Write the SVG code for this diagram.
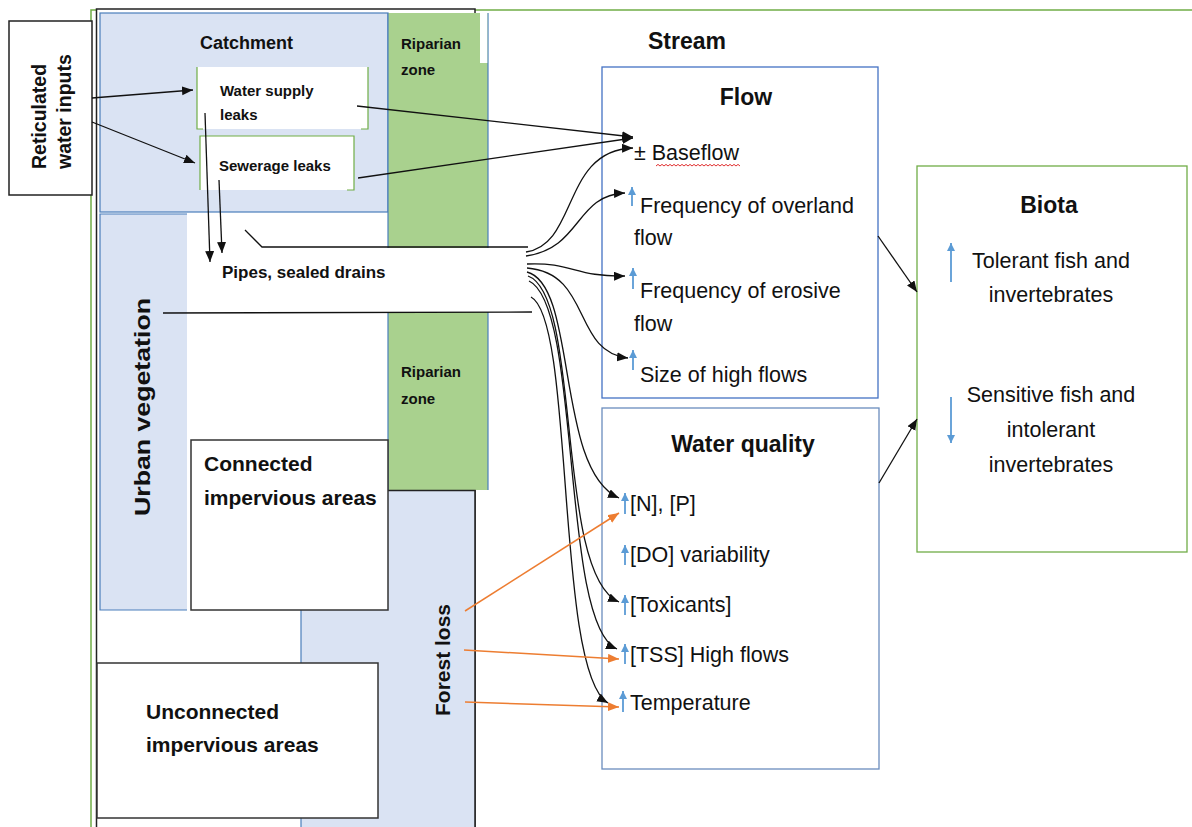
<svg xmlns="http://www.w3.org/2000/svg" width="1192" height="827" viewBox="0 0 1192 827">
<style>
text{font-family:"Liberation Sans",Arial,sans-serif;fill:#111}
.b{font-weight:bold}
.item{font-size:21.5px}
.bio{font-size:21.5px;text-anchor:middle}
.ttl{font-weight:bold;font-size:23px}
.lbl{font-weight:bold;font-size:15px}
.big{font-weight:bold;font-size:21px}
.blk{stroke:#111;stroke-width:1.3;fill:none}
.org{stroke:#ed7d31;stroke-width:1.5;fill:none}
.ind{stroke:#5b9bd5;stroke-width:1.8;fill:none}
.bluefill{fill:#dae3f3}
.bline{stroke:#4a7ebb;stroke-width:1.2;fill:none}
</style>
<defs>
<marker id="ah" markerUnits="userSpaceOnUse" markerWidth="12" markerHeight="10" refX="11" refY="4.5" orient="auto"><path d="M0,0 L11,4.5 L0,9 z" fill="#111"/></marker>
<marker id="ao" markerUnits="userSpaceOnUse" markerWidth="12" markerHeight="10" refX="11" refY="4.5" orient="auto"><path d="M0,0 L11,4.5 L0,9 z" fill="#ed7d31"/></marker>
<marker id="ab" markerUnits="userSpaceOnUse" markerWidth="10" markerHeight="10" refX="8" refY="4" orient="auto"><path d="M0,0 L8,4 L0,8 z" fill="#5b9bd5"/></marker>
</defs>
<rect width="1192" height="827" fill="#fff"/>

<g id="frame">
<rect x="91" y="10" width="1120" height="830" fill="none" stroke="#70ad47" stroke-width="1.5"/>
<rect x="96.5" y="9" width="378.5" height="830" fill="#fff" stroke="#222" stroke-width="1.5"/>
</g>

<g id="catchment">
<rect x="100" y="13" width="288" height="199" class="bluefill"/>
<rect x="100" y="13" width="288" height="199" class="bline"/>
<text x="200" y="49" class="b" font-size="18">Catchment</text>
</g>

<g id="riparian-zone">
<rect x="388" y="13" width="100" height="477" fill="#a9d18e"/>
<line x1="388" y1="13" x2="388" y2="490" class="bline"/>
<line x1="488" y1="13" x2="488" y2="490" class="bline"/>
<rect x="480" y="12" width="7.3" height="51" fill="#fff"/>
<text x="401" y="49" class="lbl">Riparian</text>
<text x="401" y="75" class="lbl">zone</text>
<text x="401" y="377" class="lbl">Riparian</text>
<text x="401" y="404" class="lbl">zone</text>
</g>

<g id="urban-vegetation">
<rect x="100" y="214" width="87" height="396" class="bluefill"/>
<path d="M187,214 H100 V610 H187" class="bline"/>
<text transform="translate(150,516) rotate(-90)" class="b" font-size="22" textLength="218" lengthAdjust="spacingAndGlyphs">Urban vegetation</text>
</g>

<g id="pipes-sealed-drains">
<rect x="387" y="248" width="103" height="64" fill="#fff"/>
<path d="M245,230 L262,247 L528,247" class="blk"/>
<path d="M163,313 L532,312" class="blk"/>
<text x="222" y="278" class="b" font-size="17">Pipes, sealed drains</text>
</g>

<g id="forest-loss">
<rect x="301" y="490" width="174" height="340" class="bluefill"/>
<line x1="301" y1="610" x2="301" y2="830" class="bline"/>
<path d="M388,490.5 H475 V830" stroke="#222" stroke-width="1.5" fill="none"/>
<text transform="translate(450,716) rotate(-90)" class="b" font-size="21">Forest loss</text>
</g>

<g id="connected-impervious-areas">
<rect x="191" y="440" width="197" height="170" fill="#fff" stroke="#333" stroke-width="1.5"/>
<text x="204" y="471" class="big">Connected</text>
<text x="204" y="505" class="big">impervious areas</text>
</g>

<g id="unconnected-impervious-areas">
<rect x="97" y="663" width="281" height="155" fill="#fff" stroke="#333" stroke-width="1.5"/>
<text x="146" y="719" class="big">Unconnected</text>
<text x="146" y="752" class="big">impervious areas</text>
</g>

<g id="reticulated-water-inputs">
<rect x="9" y="21" width="83" height="174" fill="#fff" stroke="#222" stroke-width="1.5"/>
<text transform="translate(46,169) rotate(-90)" class="b" font-size="19.5">Reticulated</text>
<text transform="translate(71,169) rotate(-90)" class="b" font-size="19.5">water inputs</text>
</g>

<g id="water-supply-leaks">
<rect x="197" y="67" width="171" height="62" fill="#fff"/>
<path d="M197,67 V129 H203 M368,67 V129 H361" stroke="#70ad47" stroke-width="1.2" fill="none"/>
<text x="220" y="96" class="lbl">Water supply</text>
<text x="220" y="120" class="lbl">leaks</text>
</g>

<g id="sewerage-leaks">
<rect x="200" y="136" width="154" height="54" fill="#fff"/>
<path d="M200,190 V136 H354 V190 H347" stroke="#70ad47" stroke-width="1.2" fill="none"/>
<text x="219" y="171" class="lbl">Sewerage leaks</text>
</g>

<g id="stream">
<text x="648" y="49" class="ttl">Stream</text>
</g>

<g id="flow">
<rect x="602" y="67" width="276" height="331" fill="#fff" stroke="#4472c4" stroke-width="1.3"/>
<text x="746" y="105" class="ttl" text-anchor="middle">Flow</text>
<text x="634" y="160" class="item">± Baseflow</text>
<path d="M656,166 l2,-1.6 2,1.6 2,-1.6 2,1.6 2,-1.6 2,1.6 2,-1.6 2,1.6 2,-1.6 2,1.6 2,-1.6 2,1.6 2,-1.6 2,1.6 2,-1.6 2,1.6 2,-1.6 2,1.6 2,-1.6 2,1.6 2,-1.6 2,1.6 2,-1.6 2,1.6 2,-1.6 2,1.6 2,-1.6 2,1.6 2,-1.6 2,1.6 2,-1.6 2,1.6 2,-1.6 2,1.6 2,-1.6 2,1.6 2,-1.6 2,1.6 2,-1.6 2,1.6 2,-1.6 2,1.6" stroke="#e03030" stroke-width="1" fill="none"/>
<line x1="632" y1="206" x2="632" y2="187" class="ind" marker-end="url(#ab)"/>
<text x="640" y="213" class="item">Frequency of overland</text>
<text x="634" y="245" class="item">flow</text>
<line x1="633" y1="289" x2="633" y2="268" class="ind" marker-end="url(#ab)"/>
<text x="640" y="298" class="item">Frequency of erosive</text>
<text x="634" y="331" class="item">flow</text>
<line x1="633" y1="370" x2="633" y2="350" class="ind" marker-end="url(#ab)"/>
<text x="640" y="382" class="item">Size of high flows</text>
</g>

<g id="water-quality">
<rect x="602" y="408" width="277" height="361" fill="#fff" stroke="#6a8dbd" stroke-width="1.3"/>
<text x="743" y="452" class="ttl" text-anchor="middle">Water quality</text>
<line x1="625" y1="514" x2="625" y2="493" class="ind" marker-end="url(#ab)"/>
<text x="630" y="511" class="item">[N], [P]</text>
<line x1="625" y1="565" x2="625" y2="545" class="ind" marker-end="url(#ab)"/>
<text x="630" y="562" class="item">[DO] variability</text>
<line x1="625" y1="615" x2="625" y2="595" class="ind" marker-end="url(#ab)"/>
<text x="630" y="612" class="item">[Toxicants]</text>
<line x1="625" y1="664" x2="625" y2="644" class="ind" marker-end="url(#ab)"/>
<text x="630" y="662" class="item">[TSS] High flows</text>
<line x1="623" y1="712" x2="623" y2="691" class="ind" marker-end="url(#ab)"/>
<text x="630" y="710" class="item">Temperature</text>
</g>

<g id="biota">
<rect x="917" y="166" width="270" height="386" fill="#fff" stroke="#70ad47" stroke-width="1.3"/>
<text x="1049" y="213" class="ttl" text-anchor="middle">Biota</text>
<line x1="951" y1="282" x2="951" y2="243" class="ind" marker-end="url(#ab)"/>
<text x="1051" y="268" class="bio">Tolerant fish and</text>
<text x="1051" y="302" class="bio">invertebrates</text>
<line x1="951" y1="397" x2="951" y2="443" class="ind" marker-end="url(#ab)"/>
<text x="1051" y="402" class="bio">Sensitive fish and</text>
<text x="1051" y="437" class="bio">intolerant</text>
<text x="1051" y="472" class="bio">invertebrates</text>
</g>

<g id="connectors">
<path d="M92,98 L193,90" class="blk" marker-end="url(#ah)"/>
<path d="M92,122 L195,163" class="blk" marker-end="url(#ah)"/>
<path d="M205,113 L210,262" class="blk" marker-end="url(#ah)"/>
<path d="M219,180 L222,253" class="blk" marker-end="url(#ah)"/>
<path d="M357,106 L633,137" class="blk" marker-end="url(#ah)"/>
<path d="M358,178 L633,138" class="blk" marker-end="url(#ah)"/>
<path d="M526,252 C578,245 562,150 633,148" class="blk" marker-end="url(#ah)"/>
<path d="M526,256 C582,248 575,195 625,193" class="blk" marker-end="url(#ah)"/>
<path d="M527,264 C572,262 575,277 625,276" class="blk" marker-end="url(#ah)"/>
<path d="M527,268 C592,273 572,352 628,358" class="blk" marker-end="url(#ah)"/>
<path d="M527,272 C578,285 555,470 619,498" class="blk" marker-end="url(#ah)"/>
<path d="M528,276 C582,295 555,575 619,602" class="blk" marker-end="url(#ah)"/>
<path d="M529,281 C582,305 560,625 617,649" class="blk" marker-end="url(#ah)"/>
<path d="M531,297 C575,320 555,672 608,703" class="blk" marker-end="url(#ah)"/>
<path d="M878,236 L917,292" class="blk" marker-end="url(#ah)"/>
<path d="M879,483 L917,419" class="blk" marker-end="url(#ah)"/>
<path d="M465,611 L619,513" class="org" marker-end="url(#ao)"/>
<path d="M464,650 L619,659" class="org" marker-end="url(#ao)"/>
<path d="M465,702 L619,707" class="org" marker-end="url(#ao)"/>
</g>
</svg>
